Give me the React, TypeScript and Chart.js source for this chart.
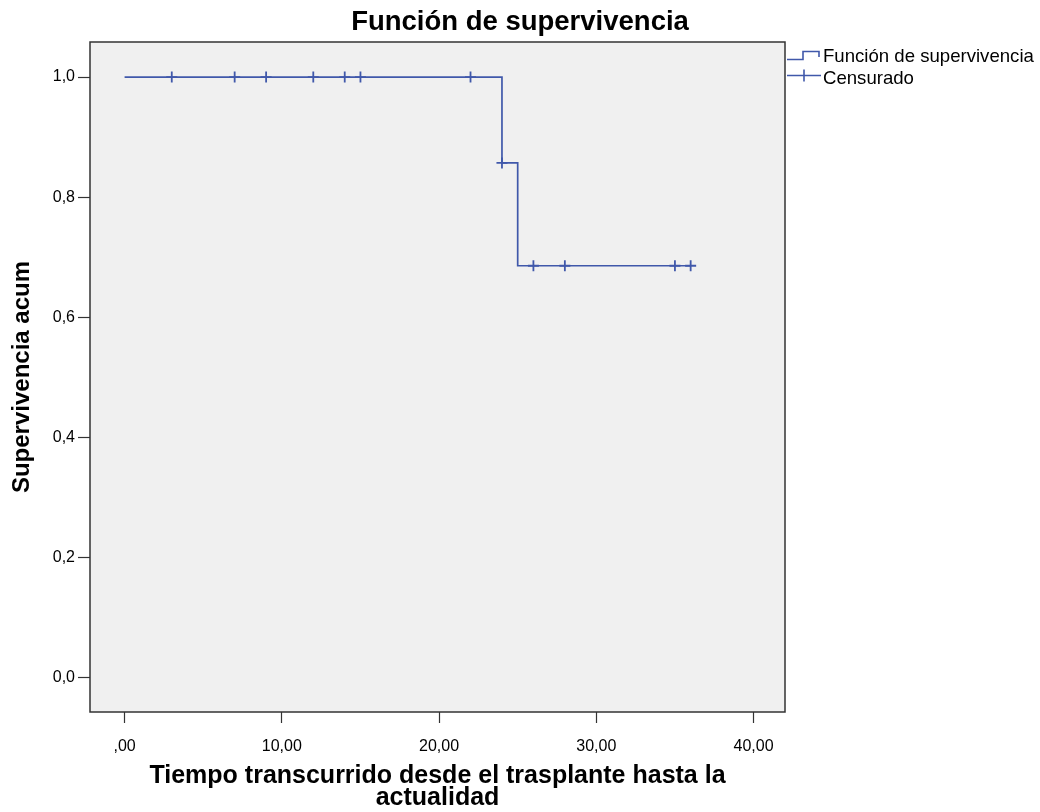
import React, { useEffect, useRef } from "react";
import { Chart, registerables } from "chart.js";

Chart.register(...registerables);

const chartTitle = "Función de supervivencia";
const xAxisTitle = ["Tiempo transcurrido desde el trasplante hasta la", "actualidad"];
const yAxisTitle = "Supervivencia acum";
const legendLabels = ["Función de supervivencia", "Censurado"];

const survivalTimes = [0, 24, 25, 36];
const survivalValues = [1.0, 0.857, 0.686, 0.686];

const censoredTimes = [3, 7, 9, 12, 14, 15, 22, 24, 26, 28, 35, 36];
const censoredValues = [1.0, 1.0, 1.0, 1.0, 1.0, 1.0, 1.0, 0.857, 0.686, 0.686, 0.686, 0.686];

const xTickValues = [0, 10, 20, 30, 40];
const xTickLabels = [",00", "10,00", "20,00", "30,00", "40,00"];
const yTickValues = [0, 0.2, 0.4, 0.6, 0.8, 1.0];
const yTickLabels = ["0,0", "0,2", "0,4", "0,6", "0,8", "1,0"];

const LINE_COLOR = "#4058aa";
const FONT = "'Liberation Sans', Arial, sans-serif";

const decorPlugin = {
  id: "decor",
  beforeDraw(chart: any) {
    const { ctx, chartArea: a, width, height } = chart;
    ctx.save();
    ctx.fillStyle = "#ffffff";
    ctx.fillRect(0, 0, width, height);
    ctx.fillStyle = "#f0f0f0";
    ctx.fillRect(a.left, a.top, a.right - a.left, a.bottom - a.top);
    ctx.restore();
  },
  afterDraw(chart: any) {
    const { ctx, chartArea: a } = chart;
    ctx.save();
    // frame
    ctx.strokeStyle = "#333333";
    ctx.lineWidth = 1.5;
    ctx.strokeRect(a.left, a.top, a.right - a.left, a.bottom - a.top);

    // title
    ctx.fillStyle = "#000000";
    ctx.font = `bold 27.5px ${FONT}`;
    ctx.textAlign = "center";
    ctx.textBaseline = "middle";
    ctx.fillText(chartTitle, 520, 22);

    // legend
    const lx = a.right + 2;
    ctx.strokeStyle = LINE_COLOR;
    ctx.lineWidth = 1.6;
    ctx.beginPath();
    ctx.moveTo(lx, 59.5);
    ctx.lineTo(lx + 16, 59.5);
    ctx.lineTo(lx + 16, 51.5);
    ctx.lineTo(lx + 32, 51.5);
    ctx.lineTo(lx + 32, 57);
    ctx.stroke();

    ctx.beginPath();
    ctx.moveTo(lx, 75.5);
    ctx.lineTo(lx + 34, 75.5);
    ctx.moveTo(lx + 17, 69.5);
    ctx.lineTo(lx + 17, 81.5);
    ctx.stroke();

    ctx.fillStyle = "#000000";
    ctx.font = `18.6px ${FONT}`;
    ctx.textAlign = "left";
    ctx.textBaseline = "middle";
    ctx.fillText(legendLabels[0], lx + 36, 57);
    ctx.fillText(legendLabels[1], lx + 36, 79);
    ctx.restore();
  },
};

export default function App() {
  const canvasRef = useRef<HTMLCanvasElement | null>(null);

  useEffect(() => {
    const canvas = canvasRef.current;
    if (!canvas) return;
    const survivalData = survivalTimes.map((t, i) => ({ x: t, y: survivalValues[i] }));
    const censoredData = censoredTimes.map((t, i) => ({ x: t, y: censoredValues[i] }));

    const chart = new Chart(canvas, {
      type: "scatter",
      data: {
        datasets: [
          {
            type: "line",
            label: legendLabels[0],
            data: survivalData,
            borderColor: LINE_COLOR,
            borderWidth: 1.7,
            stepped: "before",
            pointRadius: 0,
            fill: false,
          } as any,
          {
            type: "scatter",
            label: legendLabels[1],
            data: censoredData,
            pointStyle: "cross",
            pointRadius: 5.5,
            pointBorderWidth: 1.8,
            borderColor: LINE_COLOR,
            backgroundColor: LINE_COLOR,
            showLine: false,
          } as any,
        ],
      },
      options: {
        responsive: false,
        animation: false,
        devicePixelRatio: 1,
        layout: { padding: { top: 42, right: 255, bottom: 0, left: 0 } },
        plugins: {
          legend: { display: false },
          title: { display: false },
          tooltip: { enabled: false },
        },
        scales: {
          x: {
            type: "linear",
            min: -2.2,
            max: 42,
            afterBuildTicks: (scale: any) => {
              scale.ticks = xTickValues.map((v) => ({ value: v }));
            },
            afterFit: (scale: any) => {
              scale.height = 100;
            },
            grid: {
              drawOnChartArea: false,
              drawTicks: true,
              tickLength: 11,
              tickColor: "#333333",
              tickWidth: 1.2,
            },
            border: { display: false },
            ticks: {
              padding: 14,
              color: "#000000",
              font: { family: FONT, size: 16 },
              maxRotation: 0,
              autoSkip: false,
              callback: (value: any) => {
                const i = xTickValues.indexOf(Number(value));
                return i >= 0 ? xTickLabels[i] : "";
              },
            },
            title: {
              display: true,
              text: xAxisTitle,
              color: "#000000",
              font: { family: FONT, size: 25, weight: "bold", lineHeight: "22px" },
              padding: { top: 0, bottom: 3 },
            },
          },
          y: {
            type: "linear",
            min: -0.0566,
            max: 1.0583,
            afterBuildTicks: (scale: any) => {
              scale.ticks = yTickValues.map((v) => ({ value: v }));
            },
            afterFit: (scale: any) => {
              scale.width = 90;
            },
            grid: {
              drawOnChartArea: false,
              drawTicks: true,
              tickLength: 12,
              tickColor: "#333333",
              tickWidth: 1.2,
            },
            border: { display: false },
            ticks: {
              padding: 3,
              color: "#000000",
              font: { family: FONT, size: 16 },
              autoSkip: false,
              callback: (value: any) => {
                const i = yTickValues.findIndex((v) => Math.abs(v - Number(value)) < 1e-6);
                return i >= 0 ? yTickLabels[i] : "";
              },
            },
            title: {
              display: true,
              text: yAxisTitle,
              color: "#000000",
              font: { family: FONT, size: 24, weight: "bold" },
              padding: { top: 8, bottom: 0 },
            },
          },
        },
      } as any,
      plugins: [decorPlugin],
    });

    return () => {
      chart.destroy();
    };
  }, []);

  return (
    <div style={{ position: "fixed", left: 0, top: 0, width: 1040, height: 812, background: "#fff" }}>
      <canvas ref={canvasRef} width={1040} height={812} style={{ display: "block" }} />
    </div>
  );
}
